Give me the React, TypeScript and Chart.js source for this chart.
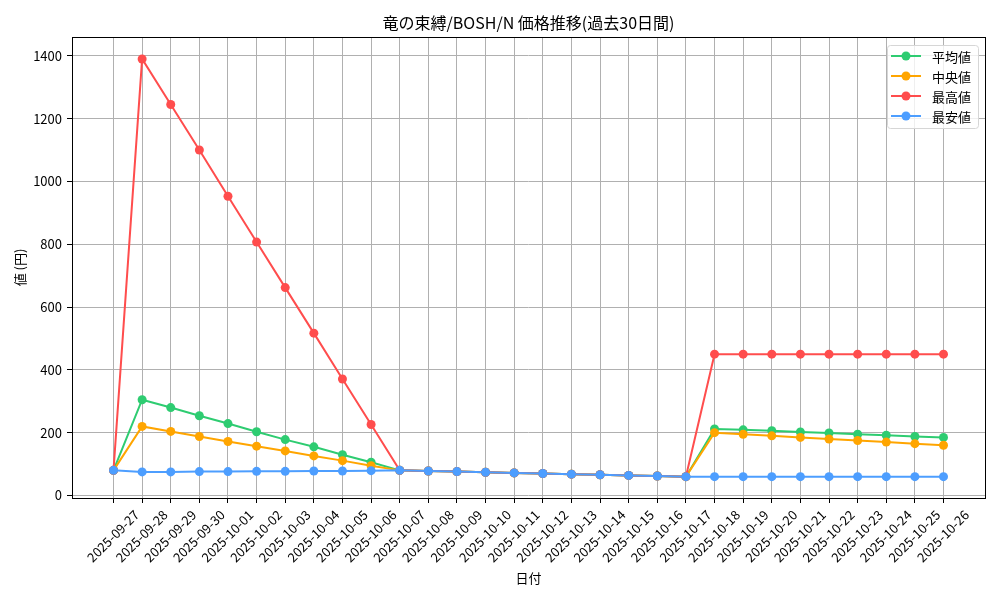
import { Chart, registerables } from "chart.js";
import { useEffect, useRef } from "react";

Chart.register(...registerables);

const FONT = '"Noto Sans CJK JP", "Noto Sans", sans-serif';

// data
const dates = [
    '2025-09-27', '2025-09-28', '2025-09-29', '2025-09-30', '2025-10-01',
    '2025-10-02', '2025-10-03', '2025-10-04', '2025-10-05', '2025-10-06',
    '2025-10-07', '2025-10-08', '2025-10-09', '2025-10-10', '2025-10-11',
    '2025-10-12', '2025-10-13', '2025-10-14', '2025-10-15', '2025-10-16',
    '2025-10-17', '2025-10-18', '2025-10-19', '2025-10-20', '2025-10-21',
    '2025-10-22', '2025-10-23', '2025-10-24', '2025-10-25', '2025-10-26'
];

const avgPrices = [
    80, 305, 280, 254, 229, 203, 178, 155, 130, 106,
    80, 78, 76, 74, 72, 70, 68, 66, 64, 62,
    60, 212, 209, 206, 202, 199, 195, 192, 188, 185
];

const medianPrices = [
    80, 220, 204, 188, 172, 157, 142, 126, 111, 95,
    80, 78, 76, 74, 72, 70, 68, 66, 64, 62,
    60, 200, 195, 190, 185, 180, 175, 170, 165, 160
];

const maxPrices = [
    80, 1390, 1245, 1100, 953, 807, 662, 517, 371, 226,
    80, 78, 76, 74, 72, 70, 68, 66, 64, 62,
    60, 450, 450, 450, 450, 450, 450, 450, 450, 450
];

const minPrices = [
    80, 75, 75, 76, 76, 77, 77, 78, 78, 79,
    80, 78, 76, 74, 72, 70, 68, 66, 64, 62,
    60, 60, 60, 60, 60, 60, 60, 60, 60, 60
];

const seriesLabels = ['平均値', '中央値', '最高値', '最安値'];
const seriesColors = ['#2ecc71', '#ffa500', '#ff4d4d', '#4d9eff'];
const yTicks = [0, 200, 400, 600, 800, 1000, 1200, 1400];

const titleText = '竜の束縛/BOSH/N 価格推移(過去30日間)';
const xTitle = '日付';
const yTitle = '値 (円)';

// frame, title and matplotlib-style legend
const chromePlugin = {
    id: 'chrome',
    afterDatasetsDraw(chart: any) {
        const { ctx, chartArea } = chart;
        ctx.save();
        ctx.strokeStyle = '#000';
        ctx.lineWidth = 1;
        ctx.strokeRect(
            Math.round(chartArea.left) + 0.5,
            Math.round(chartArea.top) + 0.5,
            Math.round(chartArea.right - chartArea.left),
            Math.round(chartArea.bottom - chartArea.top)
        );
        ctx.restore();
    },
    afterDraw(chart: any) {
        const { ctx, chartArea } = chart;
        ctx.save();
        ctx.fillStyle = '#000';
        ctx.font = `16px ${FONT}`;
        ctx.textAlign = 'center';
        ctx.textBaseline = 'middle';
        ctx.fillText(titleText, (chartArea.left + chartArea.right) / 2, 23);

        const boxW = 91;
        const boxH = 83;
        const bx = chartArea.right - 7 - boxW;
        const by = chartArea.top + 8;
        ctx.beginPath();
        ctx.roundRect(bx + 0.5, by + 0.5, boxW, boxH, 3);
        ctx.fillStyle = 'rgba(255,255,255,0.8)';
        ctx.fill();
        ctx.strokeStyle = '#d6d6d6';
        ctx.lineWidth = 1;
        ctx.stroke();

        ctx.font = `13px ${FONT}`;
        ctx.textAlign = 'left';
        chart.data.datasets.forEach((ds: any, i: number) => {
            const y = by + 11 + i * 20;
            ctx.strokeStyle = ds.borderColor;
            ctx.lineWidth = 2;
            ctx.beginPath();
            ctx.moveTo(bx + 4, y);
            ctx.lineTo(bx + 34, y);
            ctx.stroke();
            ctx.fillStyle = ds.borderColor;
            ctx.beginPath();
            ctx.arc(bx + 19, y, 4.5, 0, Math.PI * 2);
            ctx.fill();
            ctx.fillStyle = '#000';
            ctx.fillText(ds.label, bx + 45, y + 1);
        });
        ctx.restore();
    }
};

export default function App() {
    const chartRef = useRef<HTMLCanvasElement | null>(null);

    useEffect(() => {
        if (!chartRef.current) return;
        const series = [avgPrices, medianPrices, maxPrices, minPrices];
        const chartInstance = new Chart(chartRef.current, {
            type: 'line',
            data: {
                datasets: series.map((values, i) => ({
                    label: seriesLabels[i],
                    data: values.map((v, j) => ({ x: j, y: v })),
                    borderColor: seriesColors[i],
                    backgroundColor: seriesColors[i],
                    pointBackgroundColor: seriesColors[i],
                    pointBorderWidth: 0,
                    pointRadius: 4.5,
                    borderWidth: 2,
                    tension: 0,
                    order: 4 - i
                }))
            },
            options: {
                responsive: false,
                animation: false,
                layout: { padding: { top: 37, right: 15, left: 0, bottom: 0 } },
                plugins: {
                    legend: { display: false },
                    title: { display: false },
                    tooltip: { enabled: false }
                },
                scales: {
                    x: {
                        type: 'linear',
                        min: -1.45,
                        max: dates.length - 1 + 1.45,
                        afterBuildTicks: (scale: any) => {
                            scale.ticks = dates.map((_, i) => ({ value: i }));
                        },
                        afterFit: (scale: any) => {
                            scale.height = 102;
                        },
                        ticks: {
                            autoSkip: false,
                            minRotation: 45,
                            maxRotation: 45,
                            labelOffset: 23,
                            padding: 4,
                            color: '#000',
                            font: { family: FONT, size: 13 },
                            callback: (value: any) => dates[value] ?? ''
                        },
                        grid: {
                            color: '#b0b0b0',
                            lineWidth: 1,
                            tickColor: '#000',
                            tickLength: 5
                        },
                        border: { display: false },
                        title: {
                            display: true,
                            text: xTitle,
                            color: '#000',
                            font: { family: FONT, size: 13 },
                            padding: { top: 0, bottom: 14 }
                        }
                    },
                    y: {
                        type: 'linear',
                        min: -8,
                        max: 1460,
                        afterBuildTicks: (scale: any) => {
                            scale.ticks = yTicks.map((v) => ({ value: v }));
                        },
                        afterFit: (scale: any) => {
                            scale.width = 72;
                        },
                        ticks: {
                            padding: 5,
                            color: '#000',
                            font: { family: FONT, size: 13 },
                            callback: (value: any) => String(value)
                        },
                        grid: {
                            color: '#b0b0b0',
                            lineWidth: 1,
                            tickColor: '#000',
                            tickLength: 5
                        },
                        border: { display: false },
                        title: {
                            display: true,
                            text: yTitle,
                            color: '#000',
                            font: { family: FONT, size: 13 },
                            padding: { top: 12, bottom: 0 }
                        }
                    }
                }
            },
            plugins: [chromePlugin]
        });
        return () => {
            chartInstance.destroy();
        };
    }, []);

    return (
        <div style={{ position: 'absolute', left: 0, top: 0, width: 1000, height: 600, background: '#fff' }}>
            <canvas ref={chartRef} width={1000} height={600} />
        </div>
    );
}
